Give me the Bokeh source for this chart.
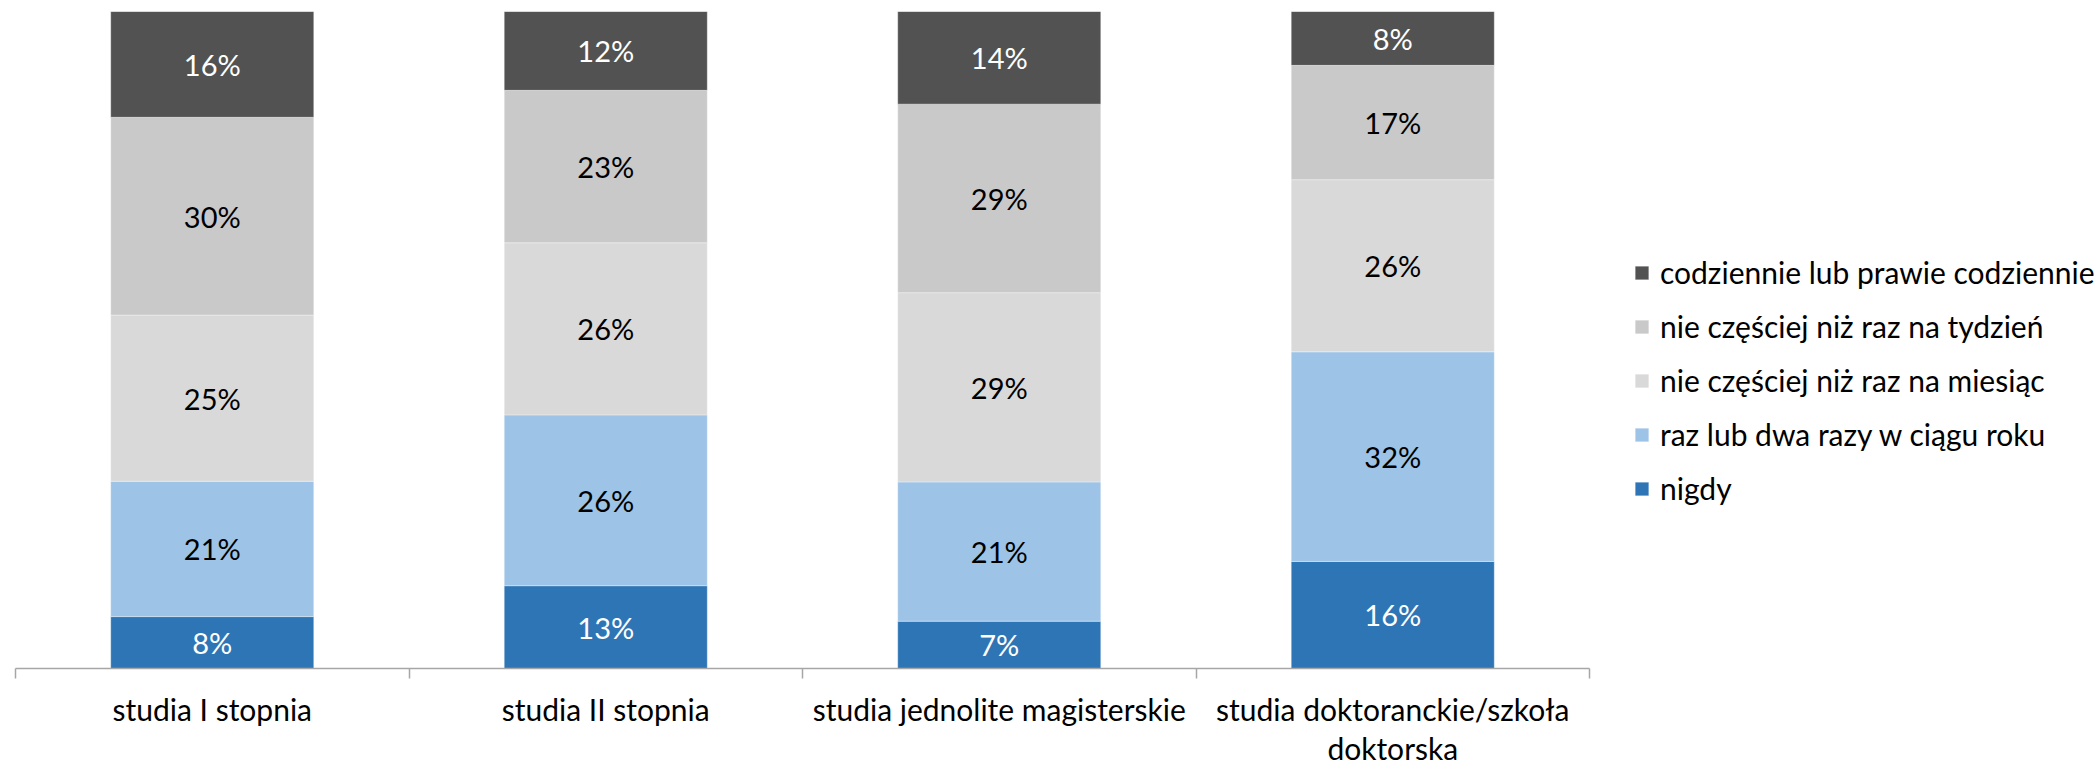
from bokeh.plotting import figure
from bokeh.models import Range1d, FixedTicker, Legend, LegendItem, ColumnDataSource
from bokeh.core.properties import value
from bokeh.embed import file_html
from bokeh.resources import INLINE

categories = ["studia I stopnia", "studia II stopnia", "studia jednolite magisterskie",
              "studia doktoranckie/szkoła doktorska"]
tick_labels = ["studia I stopnia", "studia II stopnia", "studia jednolite magisterskie",
               "studia doktoranckie/szkoła\ndoktorska"]
series = ["nigdy", "raz lub dwa razy w ciągu roku", "nie częściej niż raz na miesiąc",
          "nie częściej niż raz na tydzień", "codziennie lub prawie codziennie"]
nigdy = [7.9, 12.6, 7.2, 16.3]
raz_w_roku = [20.6, 26.0, 21.2, 31.9]
raz_w_miesiacu = [25.3, 26.2, 28.8, 26.2]
raz_w_tygodniu = [30.1, 23.2, 28.7, 17.4]
codziennie = [16.1, 12.0, 14.1, 8.2]

colors = ["#2E75B6", "#9DC3E6", "#D9D9D9", "#C9C9C9", "#525252"]
label_colors = ["white", "black", "black", "black", "white"]
FONT = "Lato"

keys = ["s0", "s1", "s2", "s3", "s4"]
vals = [nigdy, raz_w_roku, raz_w_miesiacu, raz_w_tygodniu, codziennie]
xs = [i + 0.5 for i in range(len(categories))]
data = {"x": xs}
for k, v in zip(keys, vals):
    data[k] = v
src = ColumnDataSource(data)

p = figure(frame_width=1574, frame_height=657, x_range=Range1d(0, len(categories)),
           y_range=Range1d(0, 100), output_backend="svg", toolbar_location=None,
           min_border_left=15, min_border_top=11, min_border_right=490, min_border_bottom=70)
p.outline_line_color = None
p.grid.visible = False
p.yaxis.visible = False

rs = p.vbar_stack(keys, x="x", width=0.516, source=src, color=colors,
                  line_color="white", line_width=1, line_alpha=0.35)

# labels
lx, ly, lt, lc = [], [], [], []
for i in range(len(categories)):
    base = 0.0
    for j, v in enumerate(vals):
        lx.append(xs[i])
        ly.append(base + v[i] / 2)
        lt.append(f"{round(v[i])}%")
        lc.append(label_colors[j])
        base += v[i]
p.text(x=lx, y=ly, text=lt, text_color=lc, text_align="center", text_baseline="middle",
       text_font=value(FONT), text_font_size="29px")

ax = p.xaxis[0]
ax.ticker = FixedTicker(ticks=xs, minor_ticks=list(range(len(categories) + 1)))
ax.major_label_overrides = {x: t for x, t in zip(xs, tick_labels)}
ax.major_tick_line_color = None
ax.major_tick_out = 0
ax.major_tick_in = 0
ax.minor_tick_out = 10
ax.minor_tick_in = 0
ax.minor_tick_line_color = "#A6A6A6"
ax.axis_line_color = "#A6A6A6"
ax.axis_line_width = 1.5
ax.minor_tick_line_width = 1.5
ax.major_label_text_font = FONT
ax.major_label_text_font_size = "30px"
ax.major_label_text_color = "black"
ax.major_label_text_line_height = 1.1
ax.major_label_standoff = 12

items = [LegendItem(label=series[j], renderers=[rs[j]]) for j in reversed(range(5))]
legend = Legend(items=items, location=(44, 162), padding=0, margin=0,
                border_line_color=None, background_fill_alpha=0,
                glyph_width=17, glyph_height=17, label_standoff=10, spacing=18,
                label_text_font=FONT, label_text_font_size="30px", label_text_color="black")
p.add_layout(legend, "right")

open("out.html", "w").write(file_html(p, INLINE))
